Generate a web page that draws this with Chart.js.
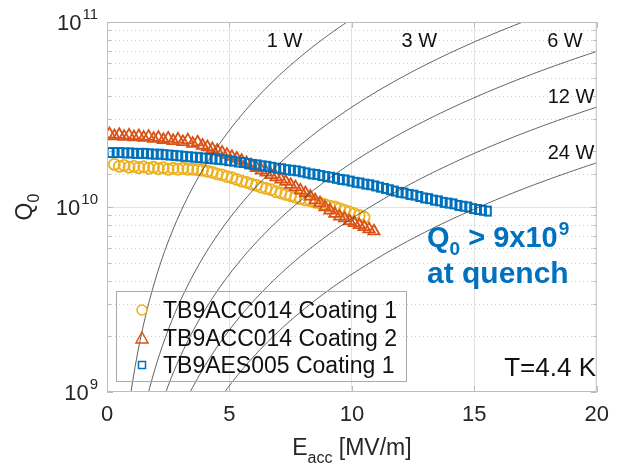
<!DOCTYPE html>
<html>
<head>
<meta charset="utf-8">
<script src="https://cdn.jsdelivr.net/npm/chart.js@4.4.0/dist/chart.umd.min.js"></script>
<style>
  body { margin: 0; background: #fff; }
</style>
</head>
<body>
<canvas id="c" width="619" height="464"></canvas>
<script>
// Q0 values are given in units of 1e10
const eCoat1 = [0.3, 0.5, 0.7, 0.9, 1.1, 1.3, 1.5, 1.7, 1.9, 2.1, 2.3, 2.5, 2.7, 2.9, 3.1, 3.3, 3.5, 3.7, 3.9, 4.1,
  4.3, 4.5, 4.7, 4.9, 5.1, 5.3, 5.5, 5.7, 5.9, 6.1, 6.3, 6.5, 6.7, 6.9, 7.1, 7.3, 7.5, 7.7, 7.9, 8.1,
  8.3, 8.5, 8.7, 8.9, 9.1, 9.3, 9.5, 9.7, 9.9, 10.1, 10.3, 10.5];
const qCoat1 = [1.70, 1.66, 1.68, 1.64, 1.66, 1.63, 1.65, 1.62, 1.64, 1.61, 1.63, 1.60, 1.62, 1.60, 1.62, 1.60, 1.60, 1.59, 1.58, 1.56,
  1.54, 1.51, 1.49, 1.46, 1.44, 1.41, 1.38, 1.36, 1.33, 1.31, 1.28, 1.26, 1.24, 1.21, 1.19, 1.17, 1.15, 1.13, 1.11, 1.09,
  1.08, 1.06, 1.05, 1.03, 1.01, 1.00, 0.98, 0.96, 0.94, 0.92, 0.90, 0.88];

const eCoat2 = [0.1, 0.3, 0.5, 0.7, 0.9, 1.1, 1.3, 1.5, 1.7, 1.9, 2.1, 2.3, 2.5, 2.7, 2.9, 3.1, 3.3, 3.5, 3.7, 3.9,
  4.1, 4.3, 4.5, 4.7, 4.9, 5.1, 5.3, 5.5, 5.7, 5.9, 6.1, 6.3, 6.5, 6.7, 6.9, 7.1, 7.3, 7.5, 7.7, 7.9,
  8.1, 8.3, 8.5, 8.7, 8.9, 9.1, 9.3, 9.5, 9.7, 9.9, 10.1, 10.3, 10.5, 10.7, 10.9];
const qCoat2 = [2.48, 2.42, 2.46, 2.40, 2.44, 2.39, 2.42, 2.37, 2.40, 2.34, 2.37, 2.31, 2.35, 2.28, 2.32, 2.25, 2.30, 2.20, 2.24, 2.15,
  2.11, 2.06, 2.02, 1.97, 1.92, 1.87, 1.83, 1.78, 1.73, 1.68, 1.63, 1.58, 1.54, 1.49, 1.45, 1.41, 1.37, 1.32, 1.28, 1.23,
  1.19, 1.14, 1.09, 1.05, 1.00, 0.96, 0.92, 0.89, 0.87, 0.84, 0.82, 0.80, 0.78, 0.76, 0.74];

const eAes = [0.15, 0.35, 0.55, 0.75, 0.95, 1.15, 1.35, 1.55, 1.75, 1.95, 2.15, 2.35, 2.55, 2.75, 2.95, 3.15, 3.35, 3.55, 3.75, 3.95,
  4.15, 4.35, 4.55, 4.75, 4.95, 5.15, 5.35, 5.55, 5.75, 5.95, 6.15, 6.35, 6.55, 6.75, 6.95, 7.15, 7.35, 7.55, 7.75, 7.95,
  8.15, 8.35, 8.55, 8.75, 8.95, 9.15, 9.35, 9.55, 9.75, 9.95, 10.15, 10.35, 10.55, 10.75, 10.95, 11.15, 11.35, 11.55, 11.75, 11.95,
  12.15, 12.35, 12.55, 12.75, 12.95, 13.15, 13.35, 13.55, 13.75, 13.95, 14.15, 14.35, 14.55, 14.75, 14.95, 15.15, 15.35, 15.55];
const qAes = [1.97, 1.97, 1.97, 1.96, 1.96, 1.95, 1.95, 1.95, 1.94, 1.93, 1.93, 1.92, 1.91, 1.90, 1.89, 1.88, 1.87, 1.86, 1.85, 1.84,
  1.83, 1.82, 1.81, 1.80, 1.78, 1.77, 1.75, 1.74, 1.72, 1.70, 1.69, 1.67, 1.66, 1.64, 1.62, 1.61, 1.59, 1.58, 1.57, 1.55,
  1.53, 1.51, 1.50, 1.48, 1.46, 1.45, 1.43, 1.41, 1.40, 1.38, 1.36, 1.35, 1.33, 1.32, 1.30, 1.28, 1.26, 1.24, 1.22, 1.20,
  1.19, 1.17, 1.16, 1.14, 1.12, 1.11, 1.09, 1.08, 1.06, 1.05, 1.04, 1.02, 1.01, 1.00, 0.98, 0.97, 0.96, 0.95];

const seriesNames = ['TB9ACC014 Coating 1', 'TB9ACC014 Coating 2', 'TB9AES005 Coating 1'];
const seriesColors = ['#EDB120', '#D95319', '#0072BD'];

// constant dissipated power lines: Q0 = G * Eacc^2 / P
const powers = [1, 3, 6, 12, 24];
const powerLabels = ['1 W', '3 W', '6 W', '12 W', '24 W'];
const gFactor = 1.04e9;

const xTicks = [0, 5, 10, 15, 20];
const yDecades = [9, 10, 11];

function toPoints(es, qs) {
  return es.map((e, i) => ({ x: e, y: qs[i] * 1e10 }));
}

function powerCurve(p) {
  const pts = [];
  const e0 = Math.sqrt(p * 1e9 / gFactor) * 0.97;
  for (let e = e0; e <= 20.05; e += 0.1) {
    pts.push({ x: e, y: gFactor * e * e / p });
  }
  return pts;
}

// open square, a bit taller than wide like in the picture
function makeSquare(color, w, h, lw) {
  const cv = document.createElement('canvas');
  cv.width = w + 4;
  cv.height = h + 4;
  const c = cv.getContext('2d');
  c.strokeStyle = color;
  c.lineWidth = lw;
  c.strokeRect(2, 2, w, h);
  return cv;
}
const squareMark = makeSquare(seriesColors[2], 6, 9, 2);

const datasets = [];
powers.forEach(p => {
  datasets.push({
    type: 'line',
    data: powerCurve(p),
    borderColor: '#3a3a3a',
    borderWidth: 0.8,
    pointRadius: 0,
    tension: 0,
    order: 0
  });
});
datasets.push({
  label: seriesNames[0],
  data: toPoints(eCoat1, qCoat1),
  pointStyle: 'circle',
  pointRadius: 5.5,
  borderColor: seriesColors[0],
  backgroundColor: 'rgba(0,0,0,0)',
  pointBorderWidth: 1.8,
  order: 3
});
datasets.push({
  label: seriesNames[1],
  data: toPoints(eCoat2, qCoat2),
  pointStyle: 'triangle',
  pointRadius: 6.5,
  borderColor: seriesColors[1],
  backgroundColor: 'rgba(0,0,0,0)',
  pointBorderWidth: 1.8,
  order: 2
});
datasets.push({
  label: seriesNames[2],
  data: toPoints(eAes, qAes),
  pointStyle: squareMark,
  borderColor: seriesColors[2],
  backgroundColor: 'rgba(0,0,0,0)',
  order: 1
});

const FONT = '"Liberation Sans", Arial, Helvetica, sans-serif';

function isDecade(v) {
  const l = Math.log10(v);
  return Math.abs(l - Math.round(l)) < 1e-6;
}

const decor = {
  id: 'decor',
  beforeDatasetsDraw(chart) {
    const { ctx, chartArea: a, scales: { y } } = chart;
    ctx.save();
    ctx.strokeStyle = '#cfcfcf';
    ctx.lineWidth = 1;
    ctx.setLineDash([1, 3]);
    y.ticks.forEach(t => {
      if (isDecade(t.value)) return;
      const py = Math.round(y.getPixelForValue(t.value)) + 0.5;
      ctx.beginPath();
      ctx.moveTo(a.left, py);
      ctx.lineTo(a.right, py);
      ctx.stroke();
    });
    ctx.restore();
  },
  afterDraw(chart) {
    const { ctx, chartArea: a, scales: { x, y } } = chart;
    ctx.save();

    // box and inward tick marks
    ctx.strokeStyle = '#bdbdbd';
    ctx.lineWidth = 1;
    ctx.strokeRect(a.left + 0.5, a.top + 0.5, a.right - a.left - 1, a.bottom - a.top - 1);
    y.ticks.forEach(t => {
      const py = Math.round(y.getPixelForValue(t.value)) + 0.5;
      const len = isDecade(t.value) ? 6 : 4;
      ctx.beginPath();
      ctx.moveTo(a.left, py); ctx.lineTo(a.left + len, py);
      ctx.moveTo(a.right, py); ctx.lineTo(a.right - len, py);
      ctx.stroke();
    });
    xTicks.forEach(v => {
      const px = Math.round(x.getPixelForValue(v)) + 0.5;
      ctx.beginPath();
      ctx.moveTo(px, a.bottom); ctx.lineTo(px, a.bottom - 6);
      ctx.moveTo(px, a.top); ctx.lineTo(px, a.top + 6);
      ctx.stroke();
    });

    // y tick labels 10^n
    ctx.fillStyle = '#262626';
    ctx.textBaseline = 'alphabetic';
    yDecades.forEach(d => {
      const py = y.getPixelForValue(Math.pow(10, d));
      ctx.font = '15px ' + FONT;
      ctx.textAlign = 'right';
      const exp = String(d);
      const ew = ctx.measureText(exp).width;
      ctx.fillText(exp, 98, py - 3);
      ctx.font = '22px ' + FONT;
      ctx.fillText('10', 98 - ew - 1, py + 8);
    });

    // x title E_acc [MV/m]
    ctx.textAlign = 'left';
    ctx.font = '23px ' + FONT;
    const w1 = ctx.measureText('E').width;
    const w3 = ctx.measureText(' [MV/m]').width;
    ctx.font = '16px ' + FONT;
    const w2 = ctx.measureText('acc').width;
    let sx = (a.left + a.right) / 2 - (w1 + w2 + w3) / 2;
    ctx.font = '23px ' + FONT;
    ctx.fillText('E', sx, 455);
    ctx.font = '16px ' + FONT;
    ctx.fillText('acc', sx + w1, 463);
    ctx.font = '23px ' + FONT;
    ctx.fillText(' [MV/m]', sx + w1 + w2, 455);

    // y title Q_0
    ctx.save();
    ctx.translate(32, (a.top + a.bottom) / 2);
    ctx.rotate(-Math.PI / 2);
    ctx.font = '23px ' + FONT;
    const qw = ctx.measureText('Q').width;
    ctx.font = '16px ' + FONT;
    const zw = ctx.measureText('0').width;
    ctx.textAlign = 'left';
    ctx.font = '23px ' + FONT;
    ctx.fillText('Q', -(qw + zw) / 2, 0);
    ctx.font = '16px ' + FONT;
    ctx.fillText('0', -(qw + zw) / 2 + qw, 7);
    ctx.restore();

    // power line labels
    ctx.font = '20px ' + FONT;
    ctx.textAlign = 'center';
    ctx.fillStyle = '#111';
    const labelPos = [[7.25, 7.3e10], [12.75, 7.3e10], [18.7, 7.3e10], [18.95, 3.65e10], [18.95, 1.82e10]];
    powerLabels.forEach((t, i) => {
      ctx.fillText(t, x.getPixelForValue(labelPos[i][0]), y.getPixelForValue(labelPos[i][1]));
    });

    // legend
    ctx.strokeStyle = '#a9a9a9';
    ctx.lineWidth = 1;
    ctx.strokeRect(116.5, 291.5, 290, 90);
    const rows = [310, 338, 365];
    ctx.textAlign = 'left';
    ctx.font = '23px ' + FONT;
    rows.forEach((ry, i) => {
      ctx.strokeStyle = seriesColors[i];
      ctx.lineWidth = 1.5;
      ctx.beginPath();
      if (i === 0) {
        ctx.arc(142, ry, 5, 0, Math.PI * 2);
      } else if (i === 1) {
        ctx.moveTo(142, ry - 6); ctx.lineTo(148, ry + 5); ctx.lineTo(136, ry + 5); ctx.closePath();
      } else {
        ctx.rect(138.5, ry - 3.5, 7, 7);
      }
      ctx.stroke();
      ctx.fillStyle = '#111';
      ctx.fillText(seriesNames[i], 163, ry + 8);
    });

    // temperature
    ctx.font = '26px ' + FONT;
    ctx.textAlign = 'right';
    ctx.fillText('T=4.4 K', 596, 376);

    // annotation
    ctx.fillStyle = '#0070C0';
    ctx.textAlign = 'left';
    let ax = 427;
    ctx.font = 'bold 29px ' + FONT;
    ctx.fillText('Q', ax, 247);
    ax += ctx.measureText('Q').width;
    ctx.font = 'bold 19px ' + FONT;
    ctx.fillText('0', ax, 255);
    ax += ctx.measureText('0').width;
    ctx.font = 'bold 29px ' + FONT;
    ctx.fillText(' > 9x10', ax, 247);
    ax += ctx.measureText(' > 9x10').width;
    ctx.font = 'bold 19px ' + FONT;
    ctx.fillText('9', ax + 1, 235);
    ctx.font = 'bold 30px ' + FONT;
    ctx.fillText('at quench', 427, 283);

    ctx.restore();
  }
};

new Chart(document.getElementById('c'), {
  type: 'scatter',
  data: { datasets: datasets },
  options: {
    responsive: false,
    animation: false,
    layout: { padding: { top: 22, right: 16, left: 0, bottom: 0 } },
    plugins: { legend: { display: false }, tooltip: { enabled: false } },
    scales: {
      x: {
        type: 'linear',
        min: 0,
        max: 20,
        afterFit: s => { s.height = 72; },
        afterBuildTicks: s => { s.ticks = xTicks.map(v => ({ value: v })); },
        ticks: { color: '#262626', font: { size: 22, family: FONT }, padding: 10, maxRotation: 0 },
        grid: {
          drawTicks: false,
          color: c => (c.tick && (c.tick.value === 0 || c.tick.value === 20)) ? 'rgba(0,0,0,0)' : '#e2e2e2'
        },
        border: { display: false }
      },
      y: {
        type: 'logarithmic',
        min: 1e9,
        max: 1e11,
        afterFit: s => { s.width = 107; },
        ticks: { display: false },
        grid: {
          drawTicks: false,
          color: c => (c.tick && isDecade(c.tick.value) && c.tick.value > 1e9 && c.tick.value < 1e11) ? '#e2e2e2' : 'rgba(0,0,0,0)'
        },
        border: { display: false }
      }
    }
  },
  plugins: [decor]
});
</script>
</body>
</html>
